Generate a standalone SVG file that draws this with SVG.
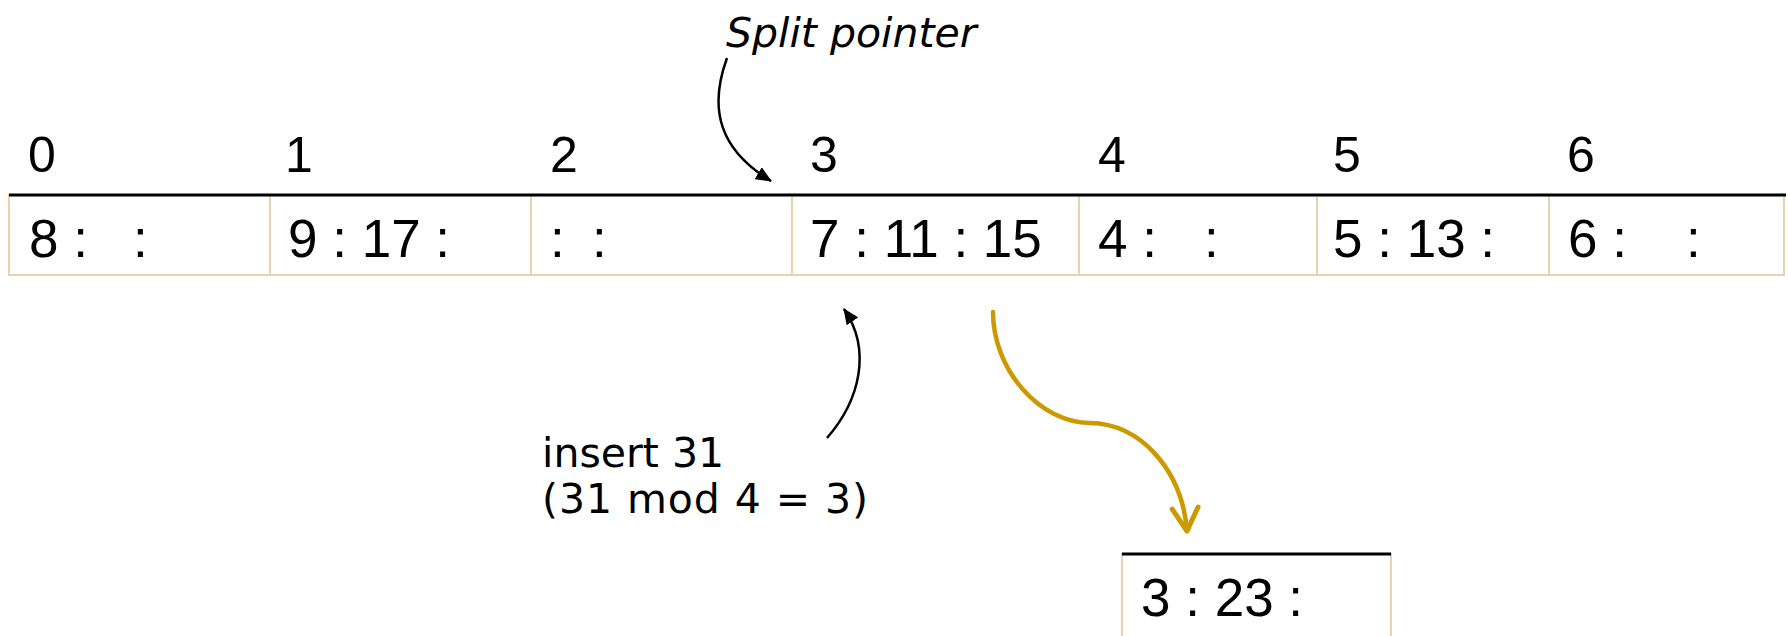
<svg xmlns="http://www.w3.org/2000/svg" width="1788" height="636" viewBox="0 0 1788 636">
<style>
.bg{fill:#ffffff}
.cell{fill:#ffffff;stroke:#E8D2B0;stroke-width:2}
.top{stroke:#000000;stroke-width:3}
.hdr{font-family:"Liberation Sans",Arial,sans-serif;font-size:50px;fill:#000}
.val{font-family:"Liberation Sans",Arial,sans-serif;font-size:53px;fill:#000}
.note{font-family:"DejaVu Sans",Verdana,sans-serif;font-size:41px;fill:#000}
.ital{font-style:italic}
.blk{fill:none;stroke:#000;stroke-width:2.5}
.gold{fill:none;stroke:#CC9900;stroke-width:4.5;stroke-linecap:round}
</style>
<defs>
<marker id="ah" viewBox="0 0 16 14" refX="15" refY="7" markerWidth="16" markerHeight="14" orient="auto" markerUnits="userSpaceOnUse"><path d="M0,0 L16,7 L0,14 z" fill="#000"/></marker>
<marker id="chev" viewBox="-4 -4 32 34" refX="23" refY="13" markerWidth="32" markerHeight="34" orient="auto" markerUnits="userSpaceOnUse" overflow="visible"><path d="M0,0 L23,13 L0,26" fill="none" stroke="#CC9900" stroke-width="5" stroke-linecap="round" stroke-linejoin="round"/></marker>
</defs>
<rect class="bg" x="0" y="0" width="1788" height="636"/>

<g id="bucket-0"><rect class="cell" x="9" y="195" width="261" height="80"/><text class="hdr" x="28" y="172">0</text><text class="val" x="29" y="257">8 :<tspan x="133">:</tspan></text></g>
<g id="bucket-1"><rect class="cell" x="270" y="195" width="261" height="80"/><text class="hdr" x="285" y="172">1</text><text class="val" x="288" y="257">9 : 17 :</text></g>
<g id="bucket-2"><rect class="cell" x="531" y="195" width="261" height="80"/><text class="hdr" x="550" y="172">2</text><text class="val" x="550" y="257">:<tspan x="592">:</tspan></text></g>
<g id="bucket-3"><rect class="cell" x="792" y="195" width="287" height="80"/><text class="hdr" x="810" y="172">3</text><text class="val" x="810" y="257">7 : 11 : 15</text></g>
<g id="bucket-4"><rect class="cell" x="1079" y="195" width="238" height="80"/><text class="hdr" x="1098" y="172">4</text><text class="val" x="1098" y="257">4 :<tspan x="1204">:</tspan></text></g>
<g id="bucket-5"><rect class="cell" x="1317" y="195" width="232" height="80"/><text class="hdr" x="1333" y="172">5</text><text class="val" x="1333" y="257">5 : 13 :</text></g>
<g id="bucket-6"><rect class="cell" x="1549" y="195" width="235" height="80"/><text class="hdr" x="1567" y="172">6</text><text class="val" x="1568" y="257">6 :<tspan x="1686">:</tspan></text></g>
<line class="top" x1="9" y1="195" x2="1786" y2="195"/>

<g id="overflow"><rect class="cell" x="1122" y="554" width="269" height="100"/><line class="top" x1="1122" y1="554" x2="1391" y2="554"/><text class="val" x="1141" y="616">3 : 23 :</text></g>

<g id="split-pointer-label"><text class="note ital" x="726" y="47" font-size="42">Split pointer</text></g>
<g id="insert-label"><text class="note" x="542" y="467">insert 31</text><text class="note" x="542" y="513" textLength="326" lengthAdjust="spacing">(31 mod 4 = 3)</text></g>

<g id="connectors">
<path class="blk" d="M727,58 C708,110 720,150 771,181" marker-end="url(#ah)"/>
<path class="blk" d="M827,438 C860,400 872,350 844,309" marker-end="url(#ah)"/>
<path class="gold" d="M993,312 C993,370 1040,423 1090,423 C1140,423 1182,470 1187,531" marker-end="url(#chev)"/>
</g>
</svg>
